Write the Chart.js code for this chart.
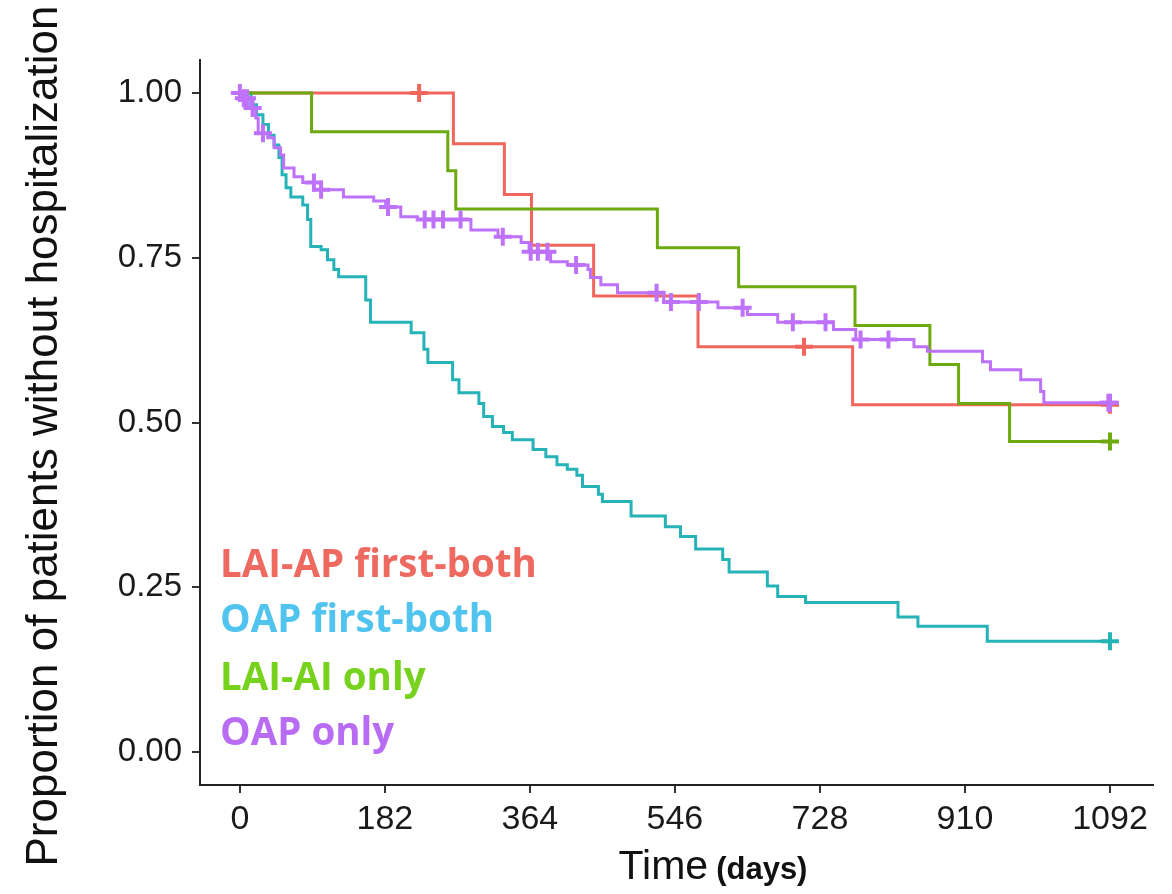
<!DOCTYPE html>
<html>
<head>
<meta charset="utf-8">
<script src="https://cdn.jsdelivr.net/npm/chart.js@4.4.1/dist/chart.umd.min.js"></script>
<style>
  html, body { margin: 0; padding: 0; background: #fff; }
  #wrap { width: 1172px; height: 894px; }
</style>
</head>
<body>
<div id="wrap"><canvas id="km" width="1172" height="894"></canvas></div>
<script>
// ---- axis ticks ----
const xTicks = [0, 182, 364, 546, 728, 910, 1092];
const yTicks = [0, 0.25, 0.5, 0.75, 1];

// ---- group labels & colours ----
const groupNames = ['LAI-AP first-both', 'OAP first-both', 'LAI-AI only', 'OAP only'];
const lineColors = ['#F1665C', '#25B3B7', '#6DAA10', '#BE72FA'];
const labelColors = ['#EE6A60', '#50C4EE', '#76D21C', '#B86CF4'];

// ---- LAI-AP first-both ----
const redTimes = [0, 268, 332, 366, 444, 575, 769, 1092];
const redSurv = [1, 0.923, 0.846, 0.769, 0.692, 0.615, 0.527, 0.527];
const redCensor = [225, 708, 1092];

// ---- OAP first-both ----
const cyanTimes = [0, 14, 21, 29, 36, 43, 49, 53, 58, 64, 79, 85, 89, 102, 110, 118, 124, 158, 164,
  215, 231, 236, 267, 275, 300, 306, 317, 331, 342, 368, 384, 398, 411, 423, 430, 450, 455, 491,
  534, 553, 572, 606, 614, 662, 675, 710, 826, 851, 938, 1092];
const cyanSurv = [1, 0.982, 0.967, 0.952, 0.936, 0.921, 0.902, 0.876, 0.856, 0.842, 0.830, 0.808, 0.767,
  0.762, 0.747, 0.732, 0.721, 0.686, 0.652, 0.636, 0.611, 0.591, 0.565, 0.545, 0.529, 0.509, 0.494,
  0.485, 0.474, 0.459, 0.448, 0.436, 0.429, 0.420, 0.403, 0.391, 0.380, 0.358, 0.342, 0.327, 0.308,
  0.292, 0.273, 0.252, 0.236, 0.227, 0.205, 0.191, 0.168, 0.168];
const cyanCensor = [1092];

// ---- LAI-AI only ----
const greenTimes = [0, 90, 261, 271, 524, 626, 772, 866, 902, 966, 1092];
const greenSurv = [1, 0.941, 0.882, 0.824, 0.765, 0.706, 0.647, 0.588, 0.529, 0.471, 0.471];
const greenCensor = [1092];

// ---- OAP only ----
const purpleTimes = [0, 5, 14, 20, 23, 35, 43, 51, 55, 68, 79, 102, 130, 168, 183, 202, 223, 290, 324,
  353, 363, 390, 411, 437, 440, 453, 474, 532, 600, 637, 675, 745, 773, 846, 863, 932, 942, 980,
  1005, 1009, 1092];
const purpleSurv = [1, 0.992, 0.977, 0.962, 0.939, 0.932, 0.917, 0.906, 0.886, 0.873, 0.864, 0.853,
  0.842, 0.836, 0.827, 0.812, 0.808, 0.792, 0.782, 0.773, 0.759, 0.744, 0.739, 0.732, 0.720, 0.709,
  0.697, 0.683, 0.674, 0.664, 0.652, 0.641, 0.626, 0.615, 0.608, 0.592, 0.580, 0.565, 0.547, 0.530, 0.530];
const purpleCensor = [0, 5, 9, 16, 29, 93, 102, 186, 232, 243, 255, 277, 330, 365, 374, 386, 422,
  523, 541, 576, 631, 694, 735, 779, 814, 1090, 1092];

// survival level in force at time t (used to sit the censor marks on the curve)
function stepValue(times, surv, t) {
  let v = surv[0];
  for (let i = 0; i < times.length; i++) {
    if (times[i] <= t) v = surv[i];
  }
  return v;
}

function curve(times, surv, color, order) {
  return {
    data: times.map((t, i) => ({ x: t, y: surv[i] })),
    showLine: true,
    stepped: true,
    borderColor: color,
    borderWidth: 3,
    pointRadius: 0,
    fill: false,
    order
  };
}

function censorMarks(times, surv, censor, color, order) {
  return {
    data: censor.map(t => ({ x: t, y: stepValue(times, surv, t) })),
    showLine: false,
    pointStyle: 'cross',
    pointRadius: 9,
    pointBorderWidth: 4,
    borderWidth: 4,
    borderColor: color,
    backgroundColor: color,
    order
  };
}

// lower order is drawn on top
const datasets = [
  curve(redTimes, redSurv, lineColors[0], 7),
  censorMarks(redTimes, redSurv, redCensor, lineColors[0], 6),
  curve(cyanTimes, cyanSurv, lineColors[1], 5),
  censorMarks(cyanTimes, cyanSurv, cyanCensor, lineColors[1], 4),
  curve(greenTimes, greenSurv, lineColors[2], 3),
  censorMarks(greenTimes, greenSurv, greenCensor, lineColors[2], 2),
  curve(purpleTimes, purpleSurv, lineColors[3], 1),
  censorMarks(purpleTimes, purpleSurv, purpleCensor, lineColors[3], 0)
];

// titles and in-panel group labels
const textPlugin = {
  id: 'kmText',
  afterDraw(chart) {
    const ctx = chart.ctx;
    const area = chart.chartArea;
    ctx.save();

    // y title
    ctx.fillStyle = '#111';
    ctx.font = '44px "Liberation Sans", Arial, sans-serif';
    ctx.textAlign = 'center';
    ctx.textBaseline = 'alphabetic';
    ctx.translate(57, 436);
    ctx.rotate(-Math.PI / 2);
    ctx.fillText('Proportion of patients without hospitalization', 0, 0);
    ctx.restore();

    // x title: "Time" + bold "(days)"
    ctx.save();
    ctx.fillStyle = '#111';
    ctx.textAlign = 'left';
    ctx.textBaseline = 'alphabetic';
    ctx.font = '41px "Liberation Sans", Arial, sans-serif';
    const t1 = 'Time';
    const w1 = ctx.measureText(t1).width;
    ctx.font = 'bold 31px "Liberation Sans", Arial, sans-serif';
    const t2 = '(days)';
    const w2 = ctx.measureText(t2).width;
    const gap = 8;
    const x0 = 713 - (w1 + gap + w2) / 2;
    ctx.font = '41px "Liberation Sans", Arial, sans-serif';
    ctx.fillText(t1, x0, 879);
    ctx.font = 'bold 31px "Liberation Sans", Arial, sans-serif';
    ctx.fillText(t2, x0 + w1 + gap, 879);

    // group labels
    ctx.font = 'bold 38.5px "Open Sans", sans-serif';
    const baselines = [577, 632, 690, 745];
    groupNames.forEach((name, i) => {
      ctx.fillStyle = labelColors[i];
      ctx.fillText(name, area.left + 20, baselines[i]);
    });
    ctx.restore();
  }
};

new Chart(document.getElementById('km'), {
  type: 'scatter',
  data: { datasets },
  options: {
    responsive: false,
    animation: false,
    events: [],
    layout: { padding: { top: 60, right: 19, left: 0, bottom: 0 } },
    plugins: {
      legend: { display: false },
      tooltip: { enabled: false }
    },
    scales: {
      x: {
        type: 'linear',
        min: -50,
        max: 1146,
        afterFit(scale) { scale.height = 109; },
        afterBuildTicks(scale) { scale.ticks = xTicks.map(v => ({ value: v })); },
        grid: { drawOnChartArea: false, drawTicks: true, tickLength: 8, color: '#333', lineWidth: 2 },
        border: { display: true, color: '#222', width: 2 },
        ticks: {
          color: '#1a1a1a',
          padding: 6,
          maxRotation: 0,
          autoSkip: false,
          font: { family: '"Liberation Sans", Arial, sans-serif', size: 34 },
          callback: v => String(v)
        }
      },
      y: {
        type: 'linear',
        min: -0.05,
        max: 1.05,
        afterFit(scale) { scale.width = 200; },
        afterBuildTicks(scale) { scale.ticks = yTicks.map(v => ({ value: v })); },
        grid: { drawOnChartArea: false, drawTicks: true, tickLength: 8, color: '#333', lineWidth: 2 },
        border: { display: true, color: '#222', width: 2 },
        ticks: {
          color: '#1a1a1a',
          padding: 10,
          autoSkip: false,
          font: { family: '"Liberation Sans", Arial, sans-serif', size: 33 },
          callback: v => v.toFixed(2)
        }
      }
    }
  },
  plugins: [textPlugin]
});
</script>
</body>
</html>
